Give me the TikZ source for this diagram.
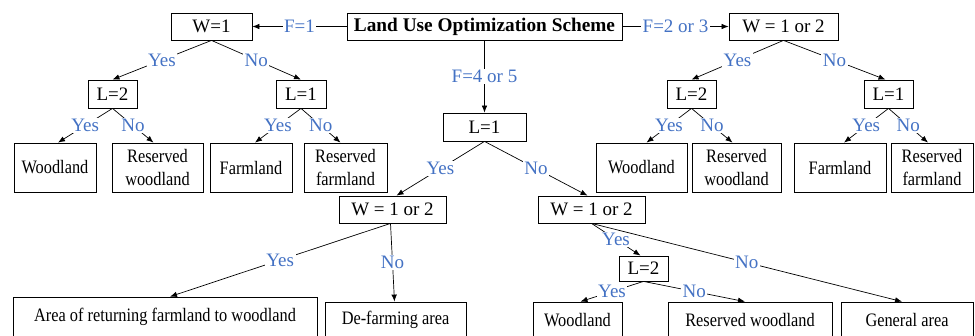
\documentclass[tikz,border=0pt]{standalone}
\usepackage{fontspec}
\setmainfont{Liberation Serif}
\newfontfamily\condfont[FakeStretch=0.86]{Liberation Serif}
\usetikzlibrary{arrows.meta}
\definecolor{labblue}{RGB}{68,114,196}
\begin{document}
\begin{tikzpicture}[x=1pt,y=-1pt,
 box/.style={draw, line width=0.8pt, inner sep=0pt, align=center, font=\fontsize{19}{23}\selectfont},
 leaf/.style={box, font=\condfont\fontsize{19}{23}\selectfont},
 lab/.style={fill=white, text=labblue, inner sep=1.5pt, font=\fontsize{19}{22}\selectfont},
 arr/.style={line width=0.7pt, -{Latex[length=7pt,width=5.5pt]}},
]
\useasboundingbox (0,0) rectangle (975,335);
\clip (0,0) rectangle (975,335);
% top row
\node[box, font=\bfseries\fontsize{19.3}{23}\selectfont, minimum width=275pt, minimum height=27pt] (main) at (484.5,26.5) {Land Use Optimization Scheme};
\node[box, minimum width=81pt, minimum height=27pt] (w1) at (211.5,26.5) {W=1};
\node[box, minimum width=109pt, minimum height=27pt] (wr) at (783.5,26.5) {W = 1 or 2};
% L level
\node[box, minimum width=49pt, minimum height=28pt] (lL2) at (112.5,94) {L=2};
\node[box, minimum width=50pt, minimum height=28pt] (lL1) at (301,94) {L=1};
\node[box, minimum width=49pt, minimum height=28pt] (rL2) at (691.5,94) {L=2};
\node[box, minimum width=49pt, minimum height=28pt] (rL1) at (888.5,94) {L=1};
\node[box, minimum width=83pt, minimum height=28pt] (cL1) at (484.5,127) {L=1};
% leaves upper
\node[leaf, minimum width=82pt, minimum height=49pt] (a1) at (55,167.5) {Woodland};
\node[leaf, minimum width=91pt, minimum height=49pt] (a2) at (157.5,167.5) {Reserved\\woodland};
\node[leaf, minimum width=82pt, minimum height=49pt] (a3) at (251,167.5) {Farmland};
\node[leaf, minimum width=83pt, minimum height=49pt] (a4) at (345.5,167.5) {Reserved\\farmland};
\node[leaf, minimum width=91pt, minimum height=49pt] (b1) at (641.5,167.5) {Woodland};
\node[leaf, minimum width=89pt, minimum height=49pt] (b2) at (736.5,167.5) {Reserved\\woodland};
\node[leaf, minimum width=92pt, minimum height=49pt] (b3) at (840,167.5) {Farmland};
\node[leaf, minimum width=82pt, minimum height=49pt] (b4) at (932,167.5) {Reserved\\farmland};
% middle W boxes
\node[box, minimum width=107pt, minimum height=27pt] (cwl) at (392.5,209.5) {W = 1 or 2};
\node[box, minimum width=107pt, minimum height=27pt] (cwr) at (591.5,209.5) {W = 1 or 2};
\node[box, minimum width=49pt, minimum height=25pt] (dL2) at (643.5,268.5) {L=2};
% bottom leaves
\node[leaf, minimum width=304pt, minimum height=40pt] (e1) at (165,317) {Area of returning farmland to woodland};
\node[leaf, minimum width=141pt, minimum height=36pt] (e2) at (395.5,320) {De-farming area};
\node[leaf, minimum width=89pt, minimum height=36pt] (f1) at (577.5,320) {Woodland};
\node[leaf, minimum width=164pt, minimum height=36pt] (f2) at (750,320) {Reserved woodland};
\node[leaf, minimum width=132pt, minimum height=36pt] (f3) at (907,320) {General area};
% connectors
\draw[arr] (main.west) -- node[lab]{F=1} (w1.east);
\draw[arr] (main.east) -- node[lab]{F=2 or 3} (wr.west);
\draw[arr] (main.south) -- node[lab]{F=4 or 5} (cL1.north);
\draw[arr] (w1.south) -- node[lab]{Yes} (lL2.north);
\draw[arr] (w1.south) -- node[lab]{No} (lL1.north);
\draw[arr] (lL2.south) -- node[lab]{Yes} ([xshift=3pt]a1.north);
\draw[arr] (lL2.south) -- node[lab]{No} ([xshift=-4pt]a2.north);
\draw[arr] (lL1.south) -- node[lab]{Yes} ([xshift=4pt]a3.north);
\draw[arr] (lL1.south) -- node[lab]{No} ([xshift=-5pt]a4.north);
\draw[arr] (wr.south) -- node[lab]{Yes} (rL2.north);
\draw[arr] (wr.south) -- node[lab]{No} ([xshift=-3pt]rL1.north);
\draw[arr] (rL2.south) -- node[lab]{Yes} ([xshift=5pt]b1.north);
\draw[arr] (rL2.south) -- node[lab]{No} ([xshift=-4pt]b2.north);
\draw[arr] (rL1.south) -- node[lab]{Yes} ([xshift=4pt]b3.north);
\draw[arr] (rL1.south) -- node[lab]{No} ([xshift=-4pt]b4.north);
\draw[arr] (cL1.south) -- node[lab]{Yes} ([xshift=4pt]cwl.north);
\draw[arr] (cL1.south) -- node[lab]{No} ([xshift=-4pt]cwr.north);
\draw[arr] ([xshift=-2pt]cwl.south) -- node[lab]{Yes} ([xshift=5pt]e1.north);
\draw[arr] ([xshift=-2pt]cwl.south) -- node[lab]{No} ([xshift=-1pt]e2.north);
\draw[arr] (cwr.south) -- node[lab]{Yes} ([xshift=-3pt]dL2.north);
\draw[arr] (cwr.south) -- node[lab]{No} ([xshift=-5pt]f3.north);
\draw[arr] (dL2.south) -- node[lab]{Yes} ([xshift=3pt]f1.north);
\draw[arr] (dL2.south) -- node[lab]{No} ([xshift=-5pt]f2.north);
\end{tikzpicture}
\end{document}
